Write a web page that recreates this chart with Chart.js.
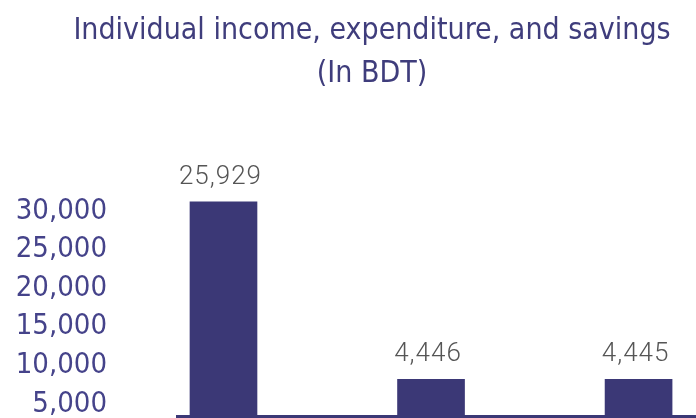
<!DOCTYPE html>
<html>
<head>
<meta charset="utf-8">
<script src="https://cdn.jsdelivr.net/npm/chart.js@4.4.0/dist/chart.umd.min.js"></script>
<style>
  html, body { margin: 0; padding: 0; background: #fff; overflow: hidden; }
  #chart { display: block; }
</style>
</head>
<body>
<canvas id="chart" width="744" height="418"></canvas>
<script>
// ===== datos =====
const categorias = ['Income', 'Expenditure', 'Savings'];
const valores = [25929, 4446, 4445];
const posiciones = [0, 1, 2];
const tickValores = [5000, 10000, 15000, 20000, 25000, 30000];
const titulo = ['Individual income, expenditure, and savings', '(In BDT)'];

const FONT = '"Liberation Sans Narrow", "DejaVu Sans Condensed", "Roboto", sans-serif';
const colorBarra = '#3b3876';
const colorTexto = '#3f3d7c';

// etiquetas encima de cada barra
const etiquetasBarras = {
    id: 'etiquetasBarras',
    afterDatasetsDraw(chart) {
        const ctx = chart.ctx;
        const meta = chart.getDatasetMeta(0);
        ctx.save();
        ctx.font = '300 26px Roboto, ' + FONT;
        ctx.letterSpacing = '1px';
        ctx.fillStyle = '#555555';
        ctx.textAlign = 'center';
        ctx.textBaseline = 'alphabetic';
        meta.data.forEach((bar, i) => {
            ctx.fillText(valores[i].toLocaleString('en-US'), bar.x - 3, bar.y - 18);
        });
        ctx.restore();
    }
};

new Chart(document.getElementById('chart'), {
    type: 'bar',
    data: {
        labels: categorias,
        datasets: [{
            label: 'BDT',
            data: valores.map((v, i) => ({ x: posiciones[i], y: v })),
            backgroundColor: colorBarra,
            borderWidth: 0,
            barThickness: 67,
            yAxisID: 'y2'
        }]
    },
    options: {
        responsive: false,
        animation: false,
        layout: { padding: { left: 0, right: 0, top: 0, bottom: 2 } },
        plugins: {
            legend: { display: false },
            tooltip: { enabled: false },
            title: {
                display: true,
                text: titulo,
                color: colorTexto,
                font: { family: FONT, size: 30, weight: 'normal', lineHeight: 1.433 },
                padding: { top: 10, bottom: 54 }
            }
        },
        scales: {
            x: {
                type: 'linear',
                offset: false,
                min: -0.224,
                max: 2.508,
                afterFit(scale) { scale.height = 0; },
                ticks: { display: false },
                grid: { display: false, drawTicks: false, offset: false },
                border: { display: true, color: colorBarra, width: 3 }
            },
            y: {
                position: 'left',
                min: 3446,
                max: 37902,
                afterFit(scale) {
                    scale.width = 177;
                    scale.paddingTop = 0;
                    scale.paddingBottom = 0;
                },
                afterBuildTicks(scale) {
                    scale.ticks = tickValores.map(v => ({ value: v }));
                },
                ticks: {
                    color: '#45438a',
                    padding: 70,
                    autoSkip: false,
                    font: { family: FONT, size: 29 },
                    callback: v => v.toLocaleString('en-US')
                },
                grid: { display: false, drawTicks: false },
                border: { display: false }
            },
            y2: {
                display: false,
                min: 0,
                max: 32200
            }
        }
    },
    plugins: [etiquetasBarras]
});
</script>
</body>
</html>
